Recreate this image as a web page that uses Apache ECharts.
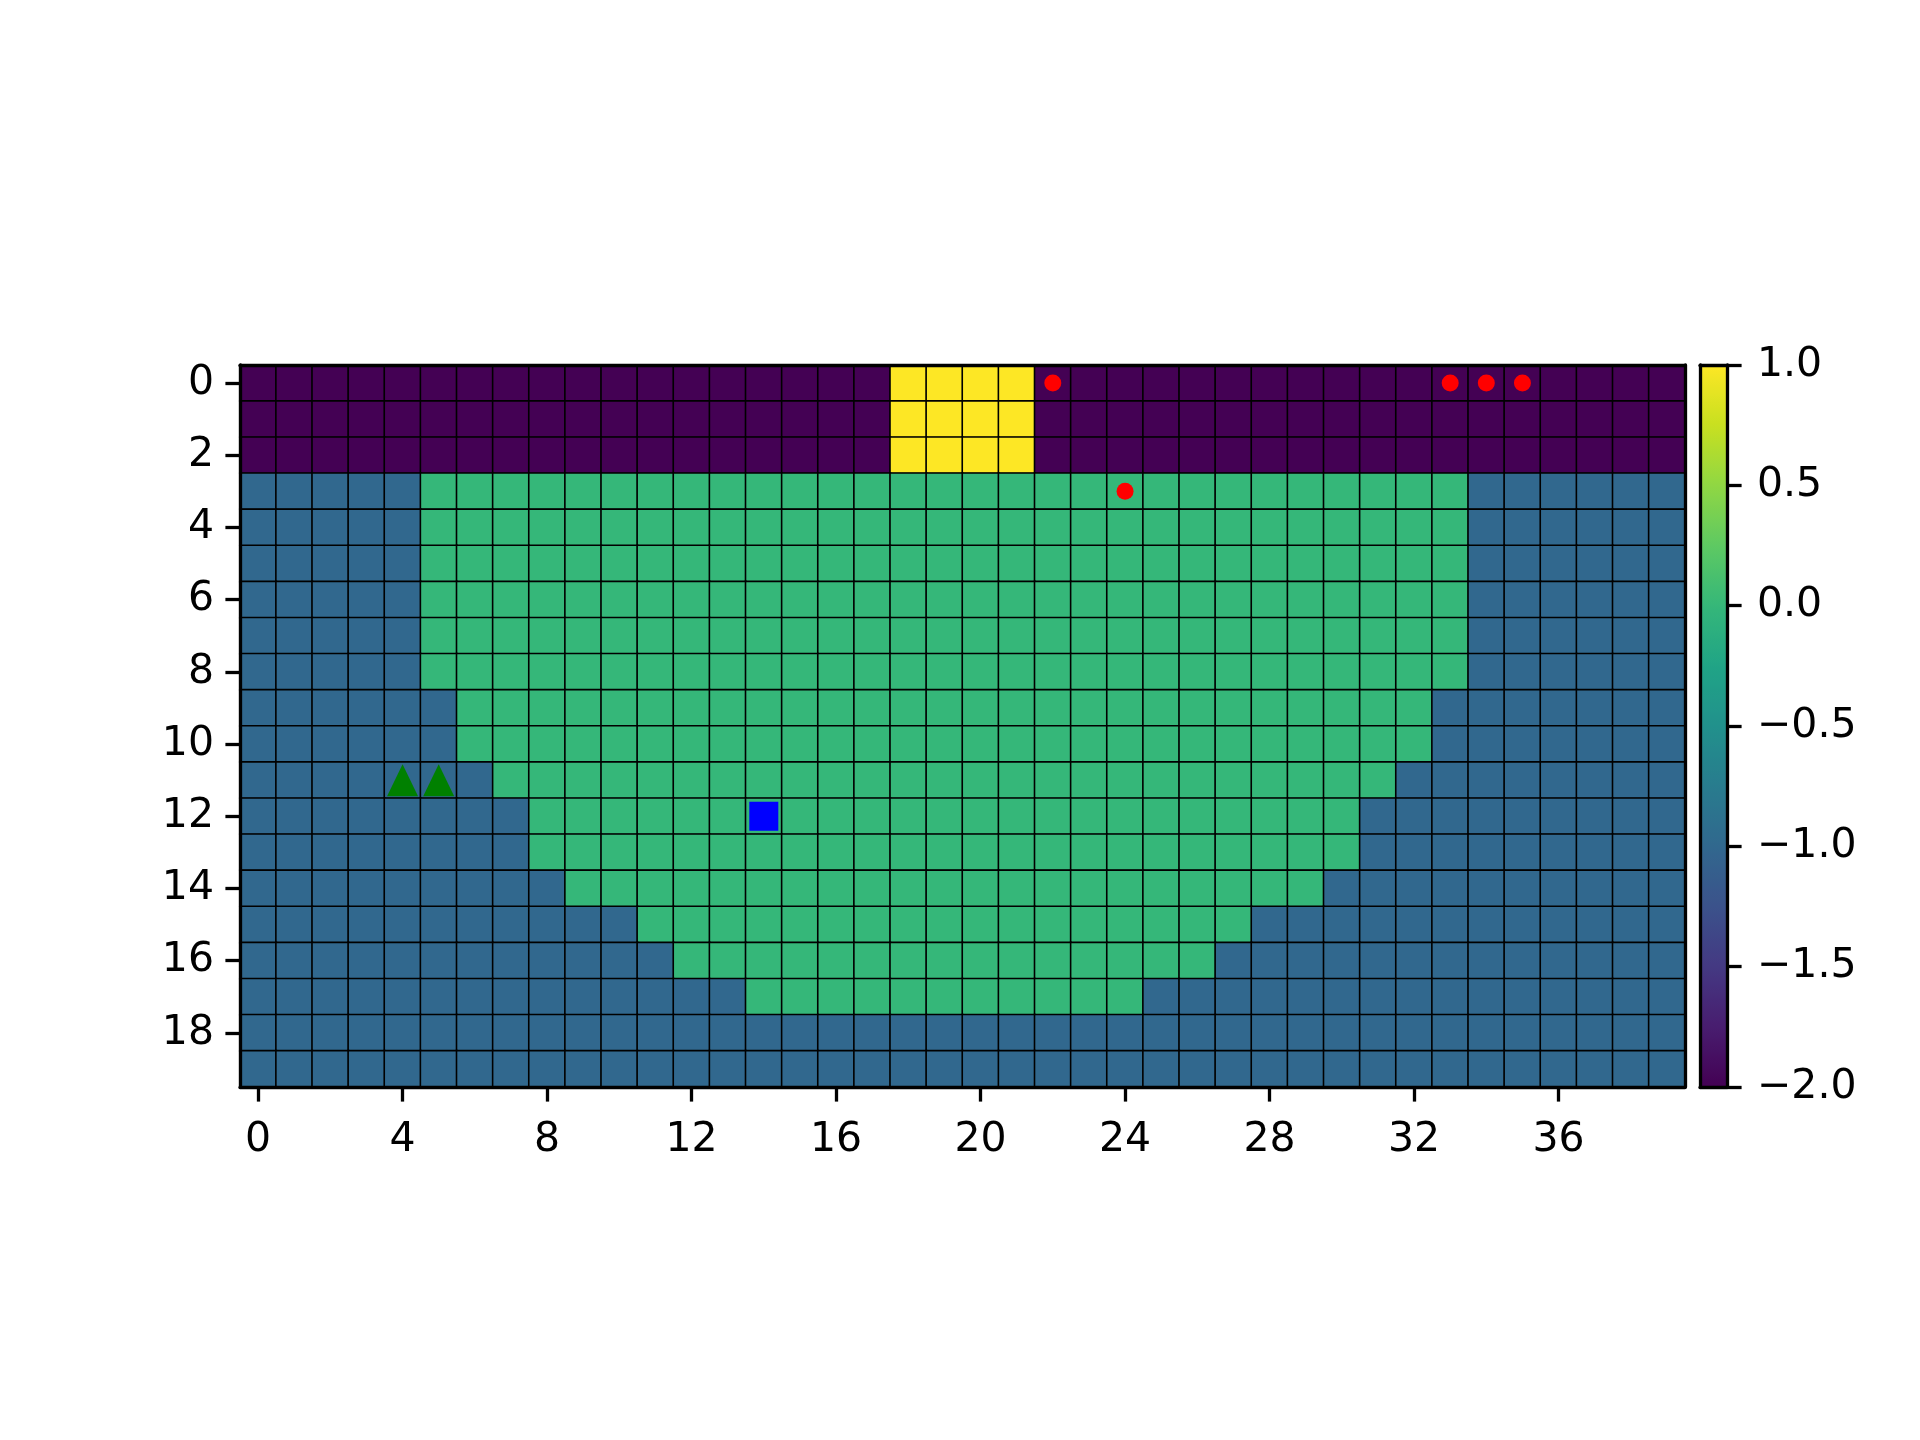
<!DOCTYPE html>
<html>
<head>
<meta charset="utf-8">
<script src="https://cdn.jsdelivr.net/npm/echarts@6/dist/echarts.min.js"></script>
<style>
html,body{margin:0;padding:0;background:#fff;}
#chart{width:1920px;height:1440px;}
</style>
</head>
<body>
<div id="chart"></div>
<script>
// ---- data ----
const xCategories = Array.from({length: 40}, (_, i) => String(i));
const yCategories = Array.from({length: 20}, (_, i) => String(i));

const gridRows = [
  [-2,-2,-2,-2,-2,-2,-2,-2,-2,-2,-2,-2,-2,-2,-2,-2,-2,-2, 1, 1, 1, 1,-2,-2,-2,-2,-2,-2,-2,-2,-2,-2,-2,-2,-2,-2,-2,-2,-2,-2],
  [-2,-2,-2,-2,-2,-2,-2,-2,-2,-2,-2,-2,-2,-2,-2,-2,-2,-2, 1, 1, 1, 1,-2,-2,-2,-2,-2,-2,-2,-2,-2,-2,-2,-2,-2,-2,-2,-2,-2,-2],
  [-2,-2,-2,-2,-2,-2,-2,-2,-2,-2,-2,-2,-2,-2,-2,-2,-2,-2, 1, 1, 1, 1,-2,-2,-2,-2,-2,-2,-2,-2,-2,-2,-2,-2,-2,-2,-2,-2,-2,-2],
  [-1,-1,-1,-1,-1, 0, 0, 0, 0, 0, 0, 0, 0, 0, 0, 0, 0, 0, 0, 0, 0, 0, 0, 0, 0, 0, 0, 0, 0, 0, 0, 0, 0, 0,-1,-1,-1,-1,-1,-1],
  [-1,-1,-1,-1,-1, 0, 0, 0, 0, 0, 0, 0, 0, 0, 0, 0, 0, 0, 0, 0, 0, 0, 0, 0, 0, 0, 0, 0, 0, 0, 0, 0, 0, 0,-1,-1,-1,-1,-1,-1],
  [-1,-1,-1,-1,-1, 0, 0, 0, 0, 0, 0, 0, 0, 0, 0, 0, 0, 0, 0, 0, 0, 0, 0, 0, 0, 0, 0, 0, 0, 0, 0, 0, 0, 0,-1,-1,-1,-1,-1,-1],
  [-1,-1,-1,-1,-1, 0, 0, 0, 0, 0, 0, 0, 0, 0, 0, 0, 0, 0, 0, 0, 0, 0, 0, 0, 0, 0, 0, 0, 0, 0, 0, 0, 0, 0,-1,-1,-1,-1,-1,-1],
  [-1,-1,-1,-1,-1, 0, 0, 0, 0, 0, 0, 0, 0, 0, 0, 0, 0, 0, 0, 0, 0, 0, 0, 0, 0, 0, 0, 0, 0, 0, 0, 0, 0, 0,-1,-1,-1,-1,-1,-1],
  [-1,-1,-1,-1,-1, 0, 0, 0, 0, 0, 0, 0, 0, 0, 0, 0, 0, 0, 0, 0, 0, 0, 0, 0, 0, 0, 0, 0, 0, 0, 0, 0, 0, 0,-1,-1,-1,-1,-1,-1],
  [-1,-1,-1,-1,-1,-1, 0, 0, 0, 0, 0, 0, 0, 0, 0, 0, 0, 0, 0, 0, 0, 0, 0, 0, 0, 0, 0, 0, 0, 0, 0, 0, 0,-1,-1,-1,-1,-1,-1,-1],
  [-1,-1,-1,-1,-1,-1, 0, 0, 0, 0, 0, 0, 0, 0, 0, 0, 0, 0, 0, 0, 0, 0, 0, 0, 0, 0, 0, 0, 0, 0, 0, 0, 0,-1,-1,-1,-1,-1,-1,-1],
  [-1,-1,-1,-1,-1,-1,-1, 0, 0, 0, 0, 0, 0, 0, 0, 0, 0, 0, 0, 0, 0, 0, 0, 0, 0, 0, 0, 0, 0, 0, 0, 0,-1,-1,-1,-1,-1,-1,-1,-1],
  [-1,-1,-1,-1,-1,-1,-1,-1, 0, 0, 0, 0, 0, 0, 0, 0, 0, 0, 0, 0, 0, 0, 0, 0, 0, 0, 0, 0, 0, 0, 0,-1,-1,-1,-1,-1,-1,-1,-1,-1],
  [-1,-1,-1,-1,-1,-1,-1,-1, 0, 0, 0, 0, 0, 0, 0, 0, 0, 0, 0, 0, 0, 0, 0, 0, 0, 0, 0, 0, 0, 0, 0,-1,-1,-1,-1,-1,-1,-1,-1,-1],
  [-1,-1,-1,-1,-1,-1,-1,-1,-1, 0, 0, 0, 0, 0, 0, 0, 0, 0, 0, 0, 0, 0, 0, 0, 0, 0, 0, 0, 0, 0,-1,-1,-1,-1,-1,-1,-1,-1,-1,-1],
  [-1,-1,-1,-1,-1,-1,-1,-1,-1,-1,-1, 0, 0, 0, 0, 0, 0, 0, 0, 0, 0, 0, 0, 0, 0, 0, 0, 0,-1,-1,-1,-1,-1,-1,-1,-1,-1,-1,-1,-1],
  [-1,-1,-1,-1,-1,-1,-1,-1,-1,-1,-1,-1, 0, 0, 0, 0, 0, 0, 0, 0, 0, 0, 0, 0, 0, 0, 0,-1,-1,-1,-1,-1,-1,-1,-1,-1,-1,-1,-1,-1],
  [-1,-1,-1,-1,-1,-1,-1,-1,-1,-1,-1,-1,-1,-1, 0, 0, 0, 0, 0, 0, 0, 0, 0, 0, 0,-1,-1,-1,-1,-1,-1,-1,-1,-1,-1,-1,-1,-1,-1,-1],
  [-1,-1,-1,-1,-1,-1,-1,-1,-1,-1,-1,-1,-1,-1,-1,-1,-1,-1,-1,-1,-1,-1,-1,-1,-1,-1,-1,-1,-1,-1,-1,-1,-1,-1,-1,-1,-1,-1,-1,-1],
  [-1,-1,-1,-1,-1,-1,-1,-1,-1,-1,-1,-1,-1,-1,-1,-1,-1,-1,-1,-1,-1,-1,-1,-1,-1,-1,-1,-1,-1,-1,-1,-1,-1,-1,-1,-1,-1,-1,-1,-1]
];

const redDots = [[22, 0], [33, 0], [34, 0], [35, 0], [24, 3]];
const greenTriangles = [[4, 11], [5, 11]];
const blueSquares = [[14, 12]];

const colorMin = -2;
const colorMax = 1;
const colorbarTicks = [-2, -1.5, -1, -0.5, 0, 0.5, 1];

// viridis colormap stops (evenly spaced)
const viridis = ['#440154','#481d6f','#443983','#3b528b','#31688e','#287c8e','#21918c',
                 '#20a486','#35b779','#5ec962','#90d743','#c8e020','#fde725'];

// ---- build ----
const heatData = [];
gridRows.forEach((row, y) => row.forEach((v, x) => heatData.push([x, y, v])));

const FONT = 'DejaVu Sans';
const FS = 41;
const LW = 3.3;

const gridL = 240, gridT = 365, gridW = 1445, gridH = 722;
const cbL = 1700, cbW = 27;

const chart = echarts.init(document.getElementById('chart'), null, {renderer: 'canvas'});

const frameAxis = {
  show: true, z: 10,
  axisLine: {show: true, onZero: false, lineStyle: {color: '#000', width: LW}},
  axisTick: {show: false}, axisLabel: {show: false}, splitLine: {show: false}
};

chart.setOption({
  animation: false,
  backgroundColor: '#fff',
  textStyle: {fontFamily: FONT},
  grid: [
    {left: gridL, top: gridT, width: gridW, height: gridH},
    {left: cbL, top: gridT, width: cbW, height: gridH}
  ],
  xAxis: [
    {
      type: 'category', data: xCategories, gridIndex: 0, position: 'bottom', z: 10,
      axisLine: {show: true, onZero: false, lineStyle: {color: '#000', width: LW}},
      axisTick: {show: true, alignWithLabel: true, interval: 3, length: 14.6, lineStyle: {color: '#000', width: LW}},
      axisLabel: {show: true, interval: 3, margin: 33, color: '#000', fontSize: FS, fontFamily: FONT},
      splitLine: {show: false}
    },
    Object.assign({type: 'category', data: xCategories, gridIndex: 0, position: 'top'}, frameAxis),
    Object.assign({type: 'value', gridIndex: 1, position: 'bottom', min: 0, max: 1}, frameAxis),
    Object.assign({type: 'value', gridIndex: 1, position: 'top', min: 0, max: 1}, frameAxis)
  ],
  yAxis: [
    {
      type: 'category', data: yCategories, gridIndex: 0, position: 'left', inverse: true, z: 10,
      axisLine: {show: true, onZero: false, lineStyle: {color: '#000', width: LW}},
      axisTick: {show: true, alignWithLabel: true, interval: 1, length: 14.6, lineStyle: {color: '#000', width: LW}},
      axisLabel: {show: true, interval: 1, margin: 26, color: '#000', fontSize: FS, fontFamily: FONT},
      splitLine: {show: false}
    },
    Object.assign({type: 'category', data: yCategories, gridIndex: 0, position: 'right', inverse: true}, frameAxis),
    {
      type: 'value', gridIndex: 1, position: 'right', min: colorMin, max: colorMax, interval: 0.5, z: 10,
      axisLine: {show: true, onZero: false, lineStyle: {color: '#000', width: LW}},
      axisTick: {show: true, length: 14.6, lineStyle: {color: '#000', width: LW}},
      axisLabel: {
        show: true, margin: 30, color: '#000', fontSize: FS, fontFamily: FONT,
        formatter: v => (v < 0 ? '\u2212' : '') + Math.abs(v).toFixed(1)
      },
      splitLine: {show: false}
    },
    Object.assign({type: 'value', gridIndex: 1, position: 'left', min: colorMin, max: colorMax}, frameAxis)
  ],
  visualMap: {
    type: 'continuous',
    seriesIndex: 0,
    min: colorMin, max: colorMax,
    calculable: false,
    orient: 'vertical',
    left: cbL, top: gridT,
    itemWidth: cbW, itemHeight: gridH,
    padding: 0,
    text: null,
    showLabel: false,
    hoverLink: false,
    z: 1,
    inRange: {color: viridis}
  },
  series: [
    {
      type: 'heatmap', xAxisIndex: 0, yAxisIndex: 0,
      data: heatData,
      itemStyle: {borderColor: '#000', borderWidth: 1.6},
      emphasis: {disabled: true},
      z: 2
    },
    {
      type: 'scatter', xAxisIndex: 0, yAxisIndex: 0,
      data: redDots, symbol: 'circle', symbolSize: 17,
      itemStyle: {color: '#ff0000', opacity: 1}, z: 5, silent: true
    },
    {
      type: 'scatter', xAxisIndex: 0, yAxisIndex: 0,
      data: greenTriangles, symbol: 'triangle', symbolSize: [31, 32],
      itemStyle: {color: '#008000', opacity: 1}, z: 5, silent: true
    },
    {
      type: 'scatter', xAxisIndex: 0, yAxisIndex: 0,
      data: blueSquares, symbol: 'rect', symbolSize: 29,
      itemStyle: {color: '#0000ff', opacity: 1}, z: 5, silent: true
    }
  ]
});
</script>
</body>
</html>
